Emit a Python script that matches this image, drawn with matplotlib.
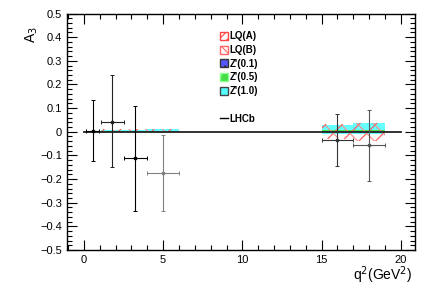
import matplotlib.pyplot as plt
from matplotlib.patches import Patch
from matplotlib.lines import Line2D
from matplotlib.ticker import MultipleLocator

plt.rcParams['font.family'] = ['Liberation Sans', 'DejaVu Sans']
plt.rcParams['hatch.linewidth'] = 0.8

# LHCb measurement
q2_lo = [0.1, 1.1, 2.5, 4.0, 15.0, 17.0]
q2_hi = [0.98, 2.5, 4.0, 6.0, 17.0, 19.0]
a3 = [0.005, 0.042, -0.113, -0.175, -0.035, -0.058]
a3_up = [0.13, 0.20, 0.22, 0.16, 0.11, 0.15]
a3_dn = [0.13, 0.19, 0.22, 0.16, 0.11, 0.15]
pt_colors = ['black', '#222222', 'black', 'grey', '#333333', '#555555']

# theory bands: bin edges and (low, high) per model
band_lo = [1.1, 2.5, 4.0, 15.0, 17.0]
band_hi = [2.5, 4.0, 6.0, 17.0, 19.0]
lqa_min = [-0.002, -0.002, -0.003, -0.030, -0.040]
lqa_max = [0.010, 0.011, 0.012, 0.032, 0.038]
lqb_min = [-0.002, -0.003, -0.003, -0.028, -0.038]
lqb_max = [0.009, 0.010, 0.011, 0.030, 0.036]
z01_min = [0.000, 0.000, 0.000, 0.000, 0.000]
z01_max = [0.002, 0.003, 0.003, 0.004, 0.005]
z05_min = [0.001, 0.001, 0.001, 0.003, 0.004]
z05_max = [0.003, 0.003, 0.004, 0.007, 0.008]
z10_min = [0.000, 0.000, 0.000, -0.010, -0.008]
z10_max = [0.008, 0.009, 0.010, 0.030, 0.036]

fig = plt.figure(figsize=(4.33, 2.89), dpi=100)
ax = fig.add_axes([67 / 433, 1 - 250 / 289, 348 / 433, 236.5 / 289])

def band(ymin, ymax, **kw):
    w = [h - l for l, h in zip(band_lo, band_hi)]
    hgt = [h - l for l, h in zip(ymin, ymax)]
    ax.bar(band_lo, hgt, width=w, bottom=ymin, align='edge', **kw)

band(z10_min, z10_max, color='#66ffff', linewidth=0)
band(z01_min, z01_max, color='#6666ff', linewidth=0)
band(z05_min, z05_max, color='#44dd44', linewidth=0)
band(lqa_min, lqa_max, facecolor='none', edgecolor='#ff5555', hatch='//', linewidth=0)
band(lqb_min, lqb_max, facecolor='none', edgecolor='#ff8888', hatch='\\\\', linewidth=0)

ax.plot([0, 20], [0, 0], color='#222222', lw=1.3, zorder=3)

for i in range(len(a3)):
    xc = 0.5 * (q2_lo[i] + q2_hi[i])
    ax.errorbar(xc, a3[i], xerr=[[xc - q2_lo[i]], [q2_hi[i] - xc]],
                yerr=[[a3_dn[i]], [a3_up[i]]], fmt='s', ms=2,
                color=pt_colors[i], lw=0.8, capsize=1.5, capthick=0.7, zorder=4)

ax.set_xlim(-1.07, 20.9)
ax.set_ylim(-0.5, 0.5)
ax.xaxis.set_major_locator(MultipleLocator(5))
ax.xaxis.set_minor_locator(MultipleLocator(1))
ax.yaxis.set_major_locator(MultipleLocator(0.1))
ax.yaxis.set_minor_locator(MultipleLocator(0.02))
ax.tick_params(which='both', direction='in', top=True, right=True, labelsize=8, width=0.8)
ax.tick_params(which='major', length=7)
ax.tick_params(which='minor', length=3.5)
ax.set_yticks([-0.5, -0.4, -0.3, -0.2, -0.1, 0, 0.1, 0.2, 0.3, 0.4, 0.5])
ax.set_yticklabels(['\u22120.5', '\u22120.4', '\u22120.3', '\u22120.2', '\u22120.1', '0',
                    '0.1', '0.2', '0.3', '0.4', '0.5'])
for s in ax.spines.values():
    s.set_linewidth(1.0)

fig.text(412 / 433, 1 - 275 / 289, 'q$^{2}$(GeV$^{2}$)', ha='right', va='center', fontsize=10)
fig.text(32 / 433, 1 - 26 / 289, 'A$_{3}$', rotation=90, ha='center', va='top', fontsize=10)

handles = [
    Patch(facecolor='white', edgecolor='#ff4444', hatch='////', label='LQ(A)'),
    Patch(facecolor='white', edgecolor='#ff6666', hatch='\\\\\\\\', label='LQ(B)'),
    Patch(facecolor='#5555ff', edgecolor='#333333', hatch='..', label="Z'(0.1)"),
    Patch(facecolor='#44dd44', edgecolor='#88ff88', hatch='..', label="Z'(0.5)"),
    Patch(facecolor='#55ffff', edgecolor='#444444', label="Z'(1.0)"),
    Patch(facecolor='none', edgecolor='none', label=' '),
    Line2D([], [], color='black', lw=1.0, label='LHCb'),
]
leg = ax.legend(handles=handles, loc='upper left', bbox_to_anchor=(0.425, 0.945),
                frameon=False, handlelength=0.8, handleheight=0.9, handletextpad=0.2,
                labelspacing=0.38, borderpad=0, prop={'weight': 'bold', 'size': 7})

fig.savefig('out.png', dpi=100)
